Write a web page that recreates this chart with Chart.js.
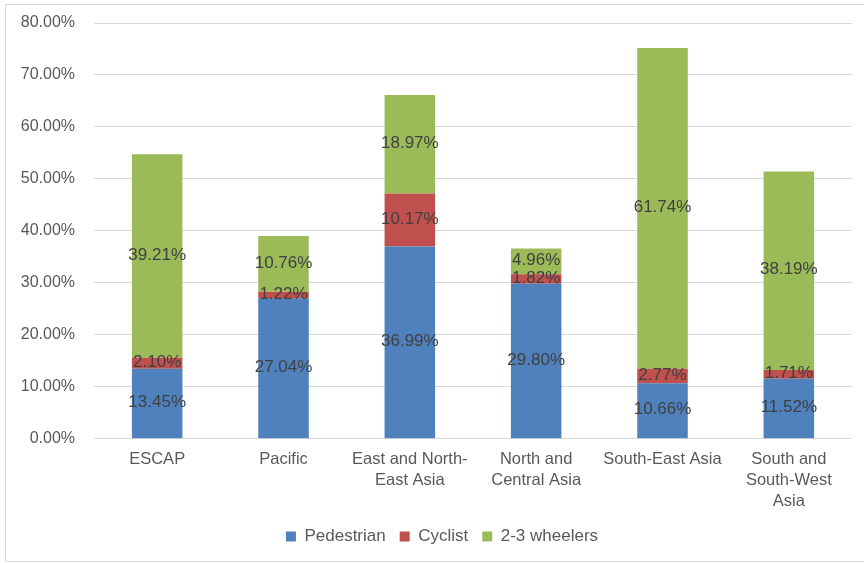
<!DOCTYPE html>
<html>
<head>
<meta charset="utf-8">
<script src="https://cdn.jsdelivr.net/npm/chart.js@4.4.1/dist/chart.umd.min.js"></script>
<style>
  html, body { margin: 0; padding: 0; background: #fff; }
  #wrap { position: relative; width: 864px; height: 563px; overflow: hidden; }
  #frame { position: absolute; left: 5px; top: 4px; width: 900px; height: 556px; border: 1px solid #d9d9d9; }
  #chart { position: absolute; left: 0; top: 0; }
</style>
</head>
<body>
<div id="wrap">
  <div id="frame"></div>
  <canvas id="chart" width="864" height="563"></canvas>
</div>
<script>
// Chart Data
const regions = [
    'ESCAP',
    'Pacific',
    ['East and North-', 'East Asia'],
    ['North and', 'Central Asia'],
    'South-East Asia',
    ['South and', 'South-West', 'Asia']
];
const pedestrian = [13.45, 27.04, 36.99, 29.80, 10.66, 11.52];
const cyclist = [2.10, 1.22, 10.17, 1.82, 2.77, 1.71];
const wheelers = [39.21, 10.76, 18.97, 4.96, 61.74, 38.19];
const yTicks = [0, 10, 20, 30, 40, 50, 60, 70, 80];

const fontFamily = '"Liberation Sans", Arial, sans-serif';
const textColor = '#595959';

// draws the value in the middle of each segment
const segmentLabels = {
    id: 'segmentLabels',
    afterLayout(chart) {
        // legend sits a bit right of the canvas centre in the original
        chart.legend.left += 16;
        chart.legend.right += 16;
    },
    afterDatasetsDraw(chart) {
        const ctx = chart.ctx;
        ctx.save();
        ctx.font = '17px ' + fontFamily;
        ctx.fillStyle = '#404040';
        ctx.textAlign = 'center';
        ctx.textBaseline = 'middle';
        chart.data.datasets.forEach((ds, i) => {
            const meta = chart.getDatasetMeta(i);
            meta.data.forEach((bar, j) => {
                const y = (bar.y + bar.base) / 2;
                ctx.fillText(ds.data[j].toFixed(2) + '%', bar.x, y - 1);
            });
        });
        ctx.restore();
    }
};

const ctx = document.getElementById('chart').getContext('2d');
new Chart(ctx, {
    type: 'bar',
    data: {
        labels: regions,
        datasets: [
            { label: 'Pedestrian', data: pedestrian, backgroundColor: '#4f81bd' },
            { label: 'Cyclist', data: cyclist, backgroundColor: '#c0504d' },
            { label: '2-3 wheelers', data: wheelers, backgroundColor: '#9bbb59' }
        ]
    },
    options: {
        responsive: false,
        animation: false,
        layout: { padding: { left: 0, right: 12, top: 23, bottom: 8 } },
        datasets: {
            bar: { barPercentage: 0.4, categoryPercentage: 1.0 }
        },
        plugins: {
            legend: {
                position: 'bottom',
                labels: {
                    boxWidth: 10,
                    boxHeight: 10,
                    padding: 14,
                    color: textColor,
                    font: { family: fontFamily, size: 17 }
                }
            },
            tooltip: { enabled: false }
        },
        scales: {
            x: {
                stacked: true,
                grid: { display: false },
                border: { display: false },
                ticks: {
                    color: textColor,
                    padding: 2,
                    maxRotation: 0,
                    font: { family: fontFamily, size: 16.5, lineHeight: 1.28 }
                }
            },
            y: {
                stacked: true,
                min: 0,
                max: 80,
                afterFit: scale => {
                    scale.width = 94;
                    scale.paddingTop = 0;
                    scale.paddingBottom = 0;
                },
                afterBuildTicks: scale => { scale.ticks = yTicks.map(v => ({ value: v })); },
                grid: { color: '#d9d9d9', drawTicks: false },
                border: { display: false },
                ticks: {
                    color: textColor,
                    padding: 19,
                    font: { family: fontFamily, size: 16 },
                    callback: value => value.toFixed(2) + '%'
                }
            }
        }
    },
    plugins: [segmentLabels]
});
</script>
</body>
</html>
